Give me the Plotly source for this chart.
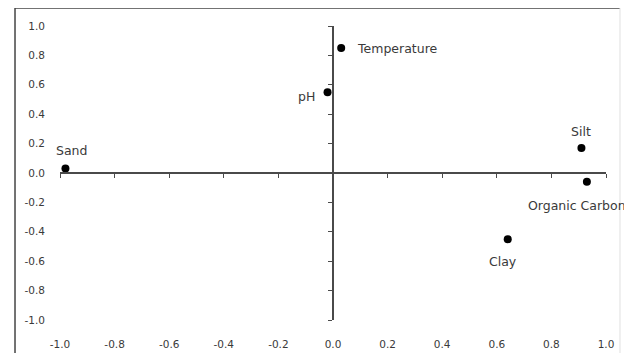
import plotly.graph_objects as go

# ---- data ----
names = ["Temperature", "pH", "Sand", "Silt", "Organic Carbon", "Clay"]
x_vals = [0.03, -0.02, -0.98, 0.91, 0.93, 0.64]
y_vals = [0.85, 0.55, 0.03, 0.17, -0.06, -0.45]
tick_vals = [-1.0, -0.8, -0.6, -0.4, -0.2, 0.0, 0.2, 0.4, 0.6, 0.8, 1.0]
tick_text = ["-1.0", "-0.8", "-0.6", "-0.4", "-0.2", "0.0", "0.2", "0.4", "0.6", "0.8", "1.0"]

# ---- label placement styles (pixel offsets from each point) ----
label_style = {
    "Temperature":    dict(xanchor="left",   xshift=14,  yshift=0),
    "pH":             dict(xanchor="right",  xshift=-11, yshift=-4),
    "Sand":           dict(xanchor="center", xshift=6,   yshift=18),
    "Silt":           dict(xanchor="center", xshift=0,   yshift=17),
    "Organic Carbon": dict(xanchor="center", xshift=-10, yshift=-24),
    "Clay":           dict(xanchor="center", xshift=-5,  yshift=-22),
}
FONT = "DejaVu Sans, Liberation Sans, sans-serif"
AXIS_COL = "#4a4a4a"
TEXT_COL = "#3a3a3a"

fig = go.Figure()
fig.add_trace(go.Scatter(
    x=x_vals, y=y_vals, mode="markers",
    marker=dict(color="black", size=8),
    cliponaxis=False, showlegend=False, text=names, hoverinfo="text",
))
# dummy trace to host the crossing axes
fig.add_trace(go.Scatter(x=[None], y=[None], xaxis="x2", yaxis="y2",
                         showlegend=False, hoverinfo="skip"))

annotations = []
for n, xv, yv in zip(names, x_vals, y_vals):
    annotations.append(dict(x=xv, y=yv, xref="x", yref="y", text=n, showarrow=False,
                            yanchor="middle", font=dict(family=FONT, size=12.5, color=TEXT_COL),
                            **label_style[n]))

common = dict(range=[-1.0, 1.0], tickvals=tick_vals, showgrid=False, zeroline=False,
              automargin=False)

# page has an 8px body margin, so the figure is drawn 8px in from the window corner
fig.update_layout(
    width=624, height=345,
    margin=dict(l=52, r=26, t=18, b=33),
    paper_bgcolor="white", plot_bgcolor="white",
    font=dict(family=FONT, size=11, color=TEXT_COL),
    xaxis=dict(**common, ticktext=tick_text, showline=False, ticks="",
               ticklabelstandoff=16, tickfont=dict(size=10.5, color=TEXT_COL)),
    yaxis=dict(**common, ticktext=tick_text, showline=False, ticks="",
               ticklabelstandoff=14, tickfont=dict(size=10.5, color=TEXT_COL)),
    xaxis2=dict(**common, overlaying="x", anchor="free", position=0.5,
                showline=True, linecolor=AXIS_COL, linewidth=1.5,
                ticks="outside", ticklen=4, tickcolor=AXIS_COL, tickwidth=1,
                showticklabels=False),
    yaxis2=dict(**common, overlaying="y", anchor="free", position=0.5, side="left",
                showline=True, linecolor=AXIS_COL, linewidth=1.5,
                ticks="outside", ticklen=4, tickcolor=AXIS_COL, tickwidth=1,
                showticklabels=False),
    annotations=annotations,
    shapes=[
        dict(type="line", xref="paper", yref="paper", x0=-0.0824, x1=-0.0824, y0=1.061, y1=-0.2,
             line=dict(color="#444444", width=1.5)),
        dict(type="line", xref="paper", yref="paper", x0=-0.0824, x1=1.0256, y0=1.061, y1=1.061,
             line=dict(color="#444444", width=1.5)),
        dict(type="line", xref="paper", yref="paper", x0=1.0256, x1=1.0256, y0=1.061, y1=-0.2,
             line=dict(color="#e0e0e0", width=1)),
    ],
)

fig.write_html("out.html")
